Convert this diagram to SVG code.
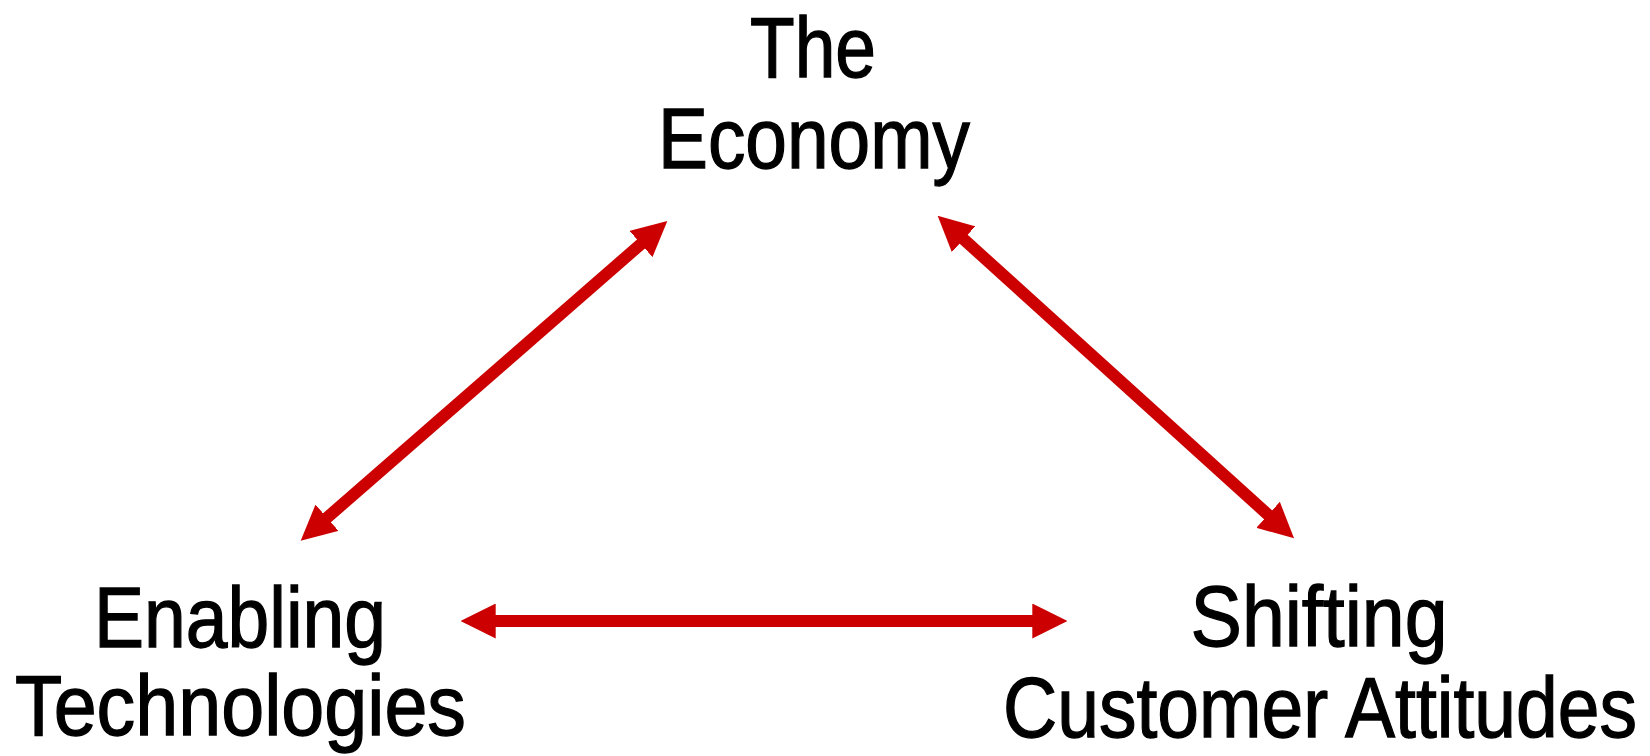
<svg xmlns="http://www.w3.org/2000/svg" width="1650" height="756" viewBox="0 0 1650 756">
  <style>
    .lbl { font-family: "Liberation Sans", Arial, sans-serif; font-size: 85px; fill: #000; stroke: #000; stroke-width: 1.3; text-anchor: middle; }
    .conn { stroke: #cc0000; stroke-width: 12; fill: none; marker-start: url(#head); marker-end: url(#head); }
  </style>
  <defs>
    <marker id="head" viewBox="0 0 35 35" markerWidth="35" markerHeight="35" markerUnits="userSpaceOnUse" refX="10" refY="17.5" orient="auto-start-reverse">
      <path d="M0,0 L35,17.5 L0,35 z" fill="#cc0000"/>
    </marker>
  </defs>
  <rect width="1650" height="756" fill="#fff"/>
  <g id="connectors">
    <path class="conn" d="M319.5,524.3 L648.5,237.4"/>
    <path class="conn" d="M956.2,232.5 L1275.5,521.5"/>
    <path class="conn" d="M485.7,621 L1042.3,621"/>
  </g>
  <g id="node-economy">
    <text class="lbl" x="813" y="77" textLength="126" lengthAdjust="spacingAndGlyphs">The</text>
    <text class="lbl" x="814" y="168" textLength="312" lengthAdjust="spacingAndGlyphs">Economy</text>
  </g>
  <g id="node-technologies">
    <text class="lbl" x="240" y="647" textLength="292" lengthAdjust="spacingAndGlyphs">Enabling</text>
    <text class="lbl" x="240.5" y="735" textLength="451" lengthAdjust="spacingAndGlyphs">Technologies</text>
  </g>
  <g id="node-attitudes">
    <text class="lbl" x="1319" y="646" textLength="257" lengthAdjust="spacingAndGlyphs">Shifting</text>
    <text class="lbl" x="1320" y="737" textLength="634" lengthAdjust="spacingAndGlyphs">Customer Attitudes</text>
  </g>
</svg>
